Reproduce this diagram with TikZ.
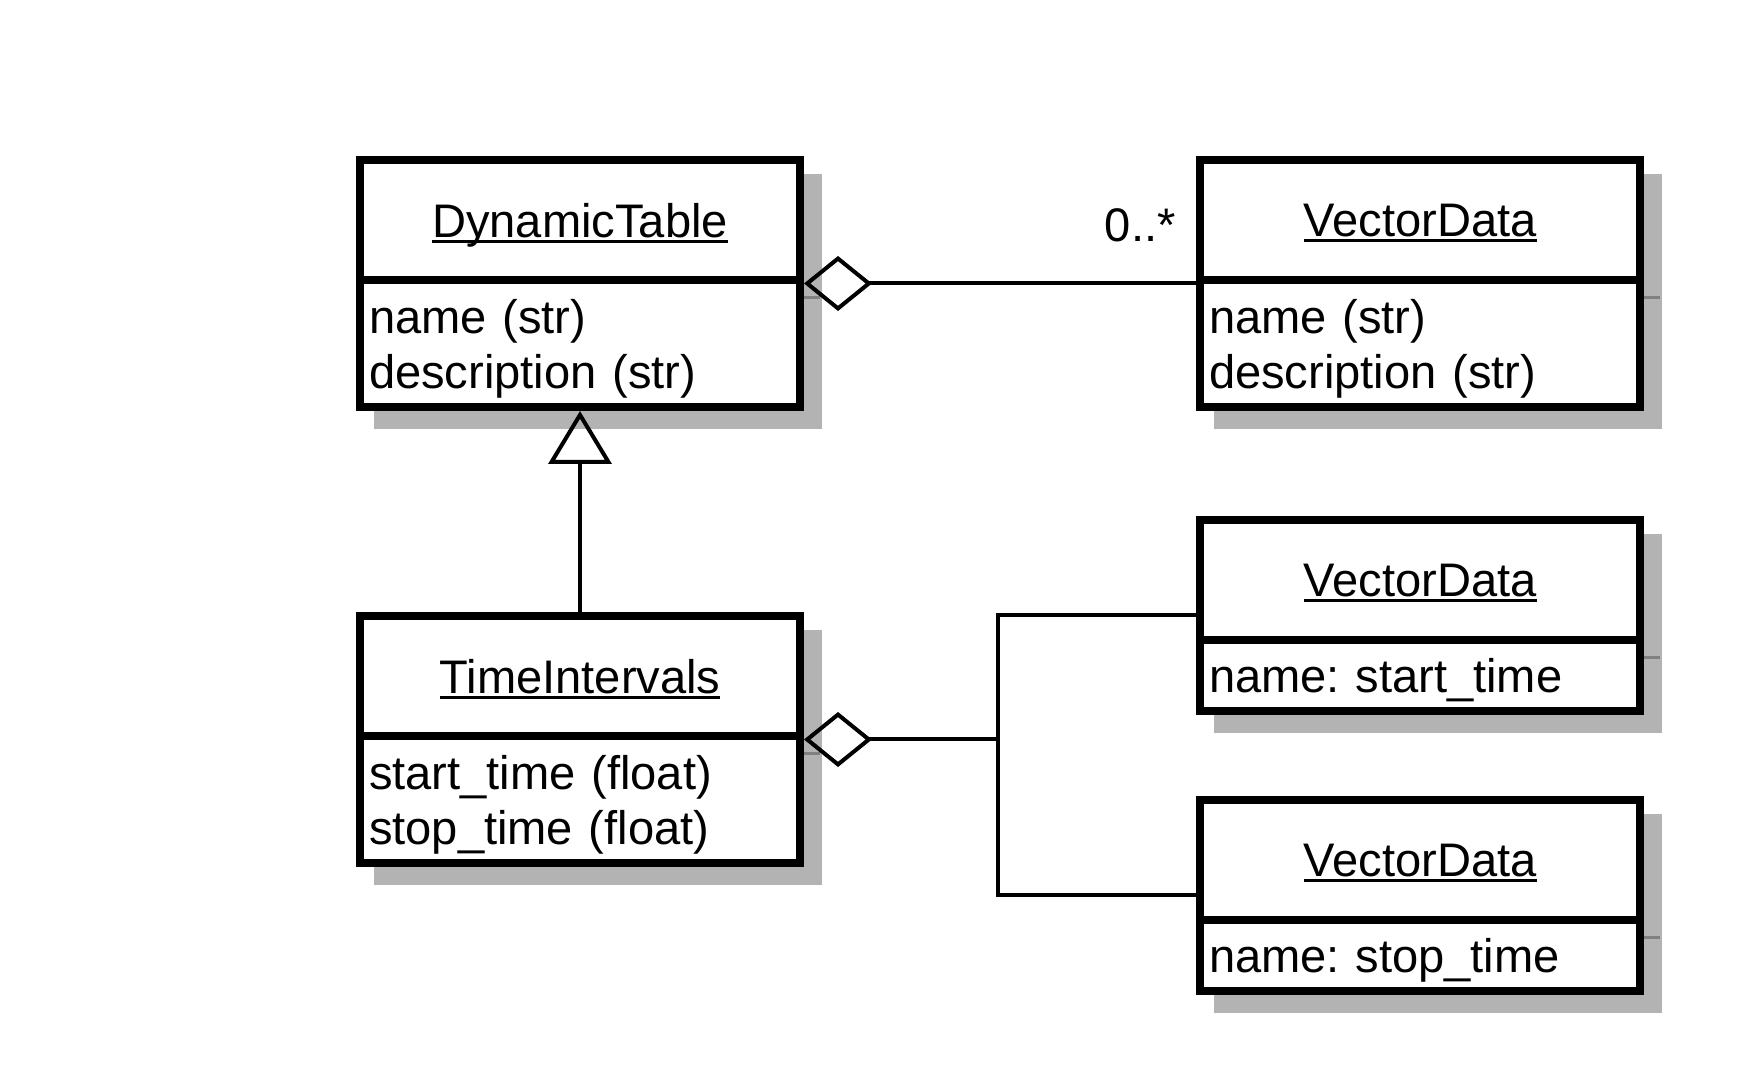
\documentclass[tikz,border=0pt]{standalone}
\usepackage{fontspec}
\setmainfont{Liberation Sans}
\usetikzlibrary{arrows.meta,positioning,fit,backgrounds,shadows}
\definecolor{shadowgray}{RGB}{179,179,179}
\definecolor{dividergray}{RGB}{128,128,128}
\newsavebox\clsbox
\newcommand{\clsname}[1]{\sbox\clsbox{#1}\rlap{\rule[-1.6pt]{\wd\clsbox}{0.9pt}}\usebox\clsbox}

\begin{document}
\begin{tikzpicture}[
    font=\fontsize{13.4}{15.65}\selectfont\frenchspacing,
    classhead/.style={rectangle, draw, line width=0.08cm, fill=white, minimum width=4.4cm, minimum height=1.2cm, inner sep=0pt, outer sep=0pt, text depth=0pt},
    classbody/.style={rectangle, draw, line width=0.08cm, fill=white, minimum width=4.4cm, text width=4.22cm, inner xsep=0.09cm, inner ysep=0pt, outer sep=0pt, align=left, text depth=#1},
    classbody/.default=0pt,
    classframe/.style={rectangle, fill=white, inner sep=0.04cm, outer sep=0pt, drop shadow={shadow xshift=0.18cm, shadow yshift=-0.18cm, fill=shadowgray, opacity=1}},
    link/.style={line width=0.04cm},
    aggr/.style={link, -{Diamond[open, length=0.68cm, width=0.55cm]}},
    inherit/.style={link, -{Triangle[open, length=0.53cm, width=0.63cm]}},
    mult/.style={font=\fontsize{13.4}{15.65}\selectfont}
]
\useasboundingbox (0,0) rectangle (17.52,10.8);

% DynamicTable
\node[classhead] (dth) at (5.8, 8.6) {\clsname{DynamicTable}};
\node[classbody=0.55cm, below=0pt of dth, minimum height=1.27cm] (dtb) {name (str)\\description (str)};

% VectorData (columns)
\node[classhead] (vdah) at (14.2, 8.6) {\clsname{VectorData}};
\node[classbody=0.55cm, below=0pt of vdah, minimum height=1.27cm] (vdab) {name (str)\\description (str)};

% TimeIntervals
\node[classhead] (tih) at (5.8, 4.04) {\clsname{TimeIntervals}};
\node[classbody=0.55cm, below=0pt of tih, minimum height=1.27cm] (tib) {start\_time (float)\\stop\_time (float)};

% VectorData start / stop
\node[classhead] (vdbh) at (14.2, 5.0) {\clsname{VectorData}};
\node[classbody, below=0pt of vdbh, minimum height=0.71cm] (vdbb) {name: start\_time};

\node[classhead] (vdch) at (14.2, 2.2) {\clsname{VectorData}};
\node[classbody, below=0pt of vdch, minimum height=0.71cm] (vdcb) {name: stop\_time};

% frames and shadows
\begin{scope}[on background layer]
    \node[classframe, fit=(dth)(dtb)] (dt) {};
    \node[classframe, fit=(vdah)(vdab)] (vda) {};
    \node[classframe, fit=(tih)(tib)] (ti) {};
    \node[classframe, fit=(vdbh)(vdbb)] (vdb) {};
    \node[classframe, fit=(vdch)(vdcb)] (vdc) {};
\end{scope}
\foreach \h in {dth,vdah,tih,vdbh,vdch}
    \draw[dividergray, line width=0.03cm] ([shift={(0.04,-0.18)}]\h.south east) -- ++(0.16,0);

% multiplicity
\node[mult, anchor=base east] (mlt) at ([xshift=-0.12cm, yshift=-0.22cm]vdah.west) {0..*};

% connectors
\draw[aggr] (vda.west) -- (dt.east);
\draw[inherit] (ti.north) -- (dt.south);

\coordinate[right=1.94cm of ti.east] (split);
\draw[aggr] (split) -- (ti.east);
\draw[link] (vdb.west) -| (split) |- (vdc.west);

\end{tikzpicture}
\end{document}
